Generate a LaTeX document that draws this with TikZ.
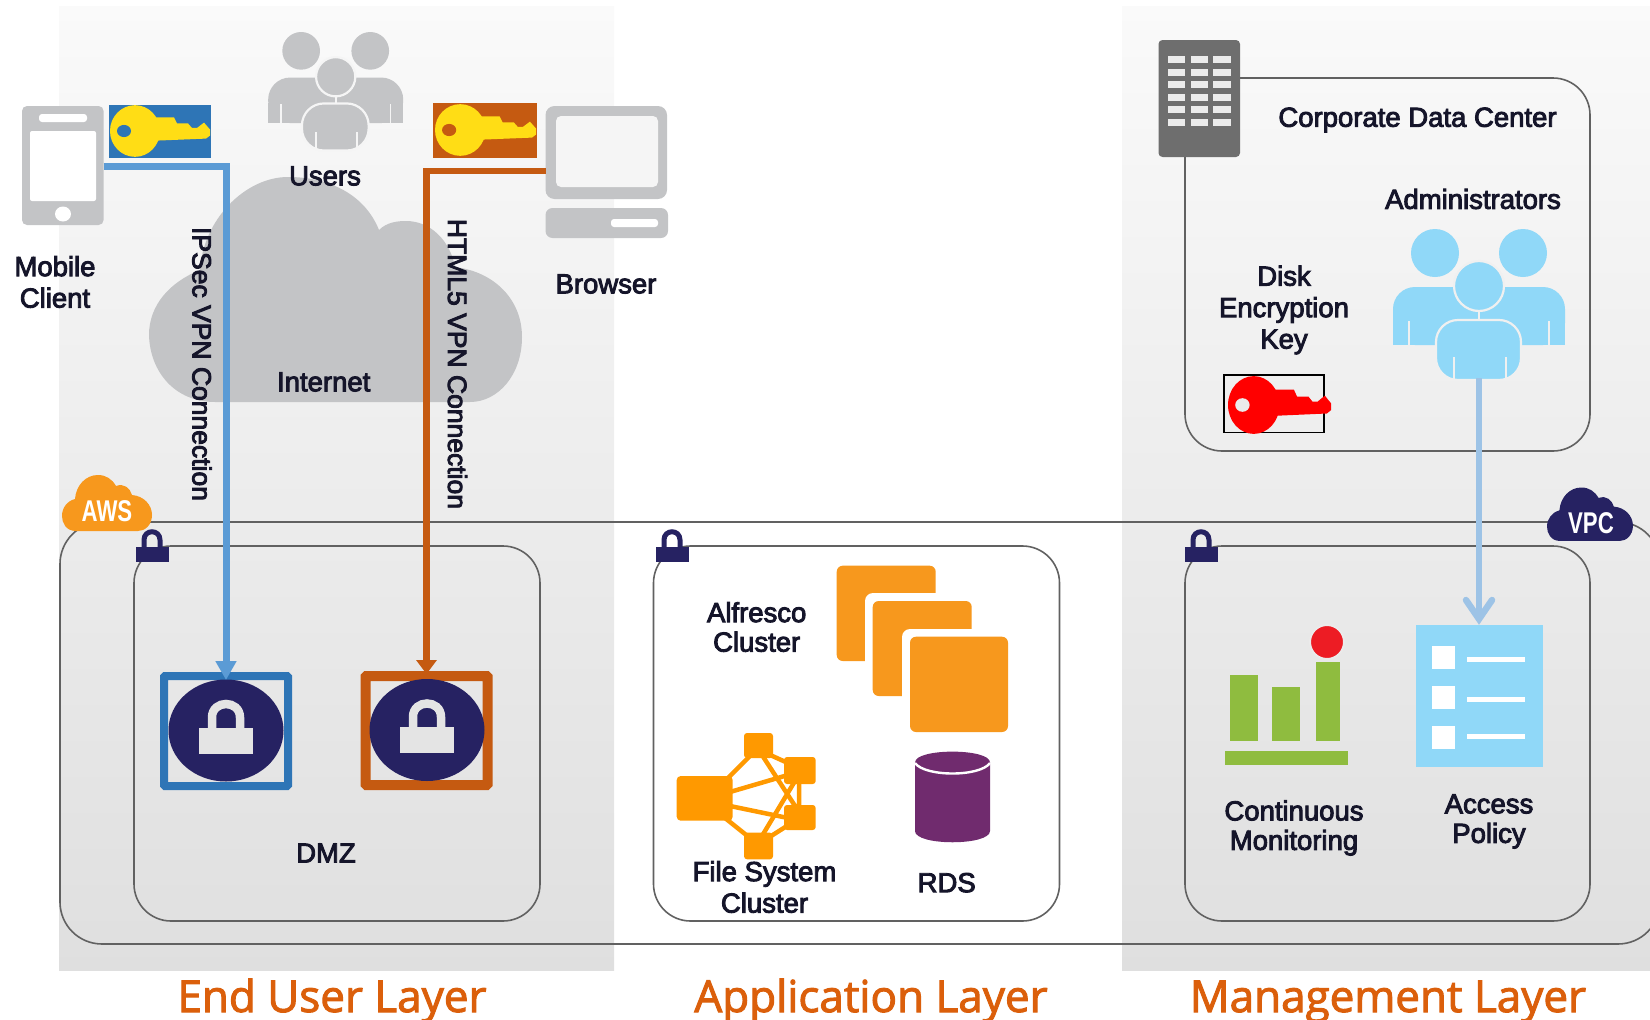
\documentclass[tikz,border=0pt]{standalone}
\usepackage{fontspec}
\setmainfont{Liberation Sans}
\newfontfamily\layerfont{Open Sans}
\newfontfamily\badgefont{Liberation Sans Bold}
\usetikzlibrary{arrows.meta,calc}
\definecolor{navy}{HTML}{262262}
\definecolor{iconGrey}{HTML}{C3C4C6}
\definecolor{awsOrange}{HTML}{F7981D}
\definecolor{fsOrange}{HTML}{FF9900}
\definecolor{skyBlue}{HTML}{90D8F8}
\definecolor{ipsecLine}{HTML}{5B9BD5}
\definecolor{ipsecBox}{HTML}{2E75B6}
\definecolor{htmlOrange}{HTML}{C55A11}
\definecolor{adminLine}{HTML}{9DC3E6}
\definecolor{chartGreen}{HTML}{8FBC3F}
\definecolor{rdsPurple}{HTML}{702B6E}
\definecolor{layerText}{HTML}{DB5F0B}
\definecolor{labelText}{HTML}{15152A}
\definecolor{keyYellow}{HTML}{FFDD15}
\tikzset{
  heavy/.style={execute at begin node={\special{pdf:code 2 Tr #1 w}}, execute at end node={\special{pdf:code 0 Tr 1 w}}},
  lbl/.style={font=\fontsize{27.5}{31.5}\selectfont, text=labelText, align=center, inner sep=0pt, heavy=0.9},
  tight/.style={font=\fontsize{27.5}{29.5}\selectfont},
  vlbl/.style={lbl, font=\fontsize{26.5}{31}\selectfont, rotate=-90},
  layer/.style={font=\layerfont\fontsize{44}{50}\selectfont, text=layerText, inner sep=0pt, anchor=base, heavy=1},
  badge/.style={font=\badgefont\fontsize{30}{30}\selectfont, text=white, xscale=.74, inner sep=0pt},
  panel/.style={top color=black!2, bottom color=black!12.5},
  zone/.style={rectangle, draw=black!62, line width=1.6pt, rounded corners=37pt, inner sep=0pt},
  vpnbox/.style={rectangle, inner sep=0pt, minimum height=110pt},
  winpane/.style={fill=white!92!black},
  pics/smalllock/.style={code={
    \fill[navy] (-16.5,0) rectangle (16.5,15);
    \draw[navy,line width=5pt] (-8,1) -- (-8,-7) .. controls (-8,-18) and (8,-18) .. (8,-7) -- (8,1);
  }},
  pics/biglock/.style={code={
    \fill[navy] (0,0) ellipse [x radius=57.5pt,y radius=51pt];
    \fill[black!10.5] (-27,-3) rectangle (27,23);
    \draw[black!10.5,line width=8.5pt] (-14,-2) -- (-14,-13) .. controls (-14,-31) and (14,-31) .. (14,-13) -- (14,-2);
  }},
  pics/cloudicon/.style={code={
    \fill[#1] (14,56) .. controls (4,56) and (0,48) .. (0,41)
      .. controls (0,33) and (5,26) .. (13,24)
      .. controls (14,10) and (24,0) .. (36,0)
      .. controls (44,0) and (50,4) .. (54,11)
      .. controls (62,8) and (68,13) .. (70,20)
      .. controls (82,21) and (90,30) .. (90,40)
      .. controls (90,50) and (83,56) .. (76,56) -- cycle;
  }},
  pics/keyicon/.style 2 args={code={
    \fill[#1] (25,0) ellipse [x radius=25pt,y radius=34pt];
    \fill[#1] (40,-18) -- (64,-18) -- (67,-10) -- (78,-10) -- (82,-4) -- (87,-4) -- (94,-11) -- (100,-2) -- (100,6) -- (96,10) -- (40,13) -- cycle;
    \fill[#2] (14,0) ellipse [x radius=7pt,y radius=8pt];
  }},
  pics/people/.style 2 args={code={
    \fill[#1] (-44,24) circle [radius=24pt];
    \fill[#1] (44,24) circle [radius=24pt];
    \fill[#1,rounded corners=22pt] (-86,116) -- (-86,58) -- (86,58) -- (86,116) -- cycle;
    \fill[#1] (-86,90) rectangle (86,116);
    \draw[#2,line width=1.6pt] (-70,92) -- (-70,116) (70,92) -- (70,116);
    \filldraw[fill=#1,draw=#2,line width=2.2pt] (0,57) circle [radius=25pt];
    \filldraw[fill=#1,draw=#2,line width=2.2pt,rounded corners=22pt] (-43,151) -- (-43,91) -- (42,91) -- (42,151) -- cycle;
    \draw[#2,line width=2.2pt] (0,82) -- (0,91);
    \draw[#2,line width=1.6pt] (-25,128) -- (-25,150) (27,128) -- (27,150);
  }},
}
\begin{document}
\begin{tikzpicture}[x=1pt,y=-1pt]
\useasboundingbox (0,0) rectangle (1650,1020);
\clip (0,0) rectangle (1650,1020);
% background panels
\path[panel] (59,6) rectangle (614,970);
\path[panel] (1122,6) rectangle (1650,970);
% internet cloud
\fill[iconGrey] (215,402) .. controls (175,402) and (150,372) .. (149,335)
  .. controls (149,305) and (170,282) .. (200,270)
  .. controls (203,220) and (245,177) .. (288,177)
  .. controls (330,177) and (365,195) .. (379,230)
  .. controls (387,222) and (398,221) .. (406,221)
  .. controls (430,221) and (450,240) .. (455,267)
  .. controls (495,272) and (522,300) .. (522,337)
  .. controls (522,375) and (498,402) .. (470,402) -- cycle;
% zones
\node[zone,rounded corners=42pt,minimum width=1600pt,minimum height=422pt] (vpc) at (860,733) {};
\node[zone,minimum width=406pt,minimum height=375pt] (dmz) at (337,733.5) {};
\node[zone,minimum width=406pt,minimum height=375pt] (app) at (856.5,733.5) {};
\node[zone,minimum width=405pt,minimum height=375pt] (mgmt) at (1387.5,733.5) {};
\node[zone,minimum width=405pt,minimum height=373pt] (corp) at (1387.5,264.5) {};
% small locks and clouds
\pic at (152,547) {smalllock};
\pic at (672,547) {smalllock};
\pic at (1201,547) {smalllock};
\pic at (62,475) {cloudicon=awsOrange};
\pic[xscale=.955,yscale=.955] at (1547,487.5) {cloudicon=navy};
\node[badge] (awsT) at (107,511) {AWS};
\node[badge] (vpcT) at (1591,523) {VPC};
% mobile icon
\fill[iconGrey,rounded corners=5pt] (22,106) rectangle (103.6,225);
\fill[white,rounded corners=3pt] (39,114) rectangle (87,122);
\fill[white,rounded corners=2pt] (30,131) rectangle (96,201);
\fill[white] (63,214) ellipse [x radius=8pt,y radius=7.5pt];
% browser icon
\fill[iconGrey,rounded corners=9pt] (545.5,106) rectangle (667,199);
\fill[white!96!black,rounded corners=5pt] (556,116) rectangle (658,187);
\fill[iconGrey,rounded corners=7pt] (545.5,208) rectangle (668,238);
\fill[white,rounded corners=3pt] (611,219) rectangle (658,227);
% keys
\fill[ipsecBox] (109,105) rectangle (211,158);
\pic[xscale=1,yscale=.76] at (110,131) {keyicon={keyYellow}{ipsecBox}};
\fill[htmlOrange] (433,103) rectangle (537,158);
\pic[xscale=1.01,yscale=.76] at (435,130) {keyicon={keyYellow}{htmlOrange}};
% people
\pic[scale=.785] at (335.7,32) {people={iconGrey}{black!4}};
\pic at (1479,229) {people={skyBlue}{black!6}};
% disk key
\draw[black,line width=1.6pt] (1224,375) rectangle (1324,432.5);
\pic[xscale=1.03,yscale=.85] at (1228,405) {keyicon={red}{white!92!black}};
% building
\fill[black!57,rounded corners=4pt] (1158.5,40) rectangle (1240,157);
\foreach \wx in {1167.7,1190.5,1213}{
  \foreach \wy in {56,68.5,81,93.5,106,118.5}{
    \fill[winpane] (\wx,\wy) rectangle ++(17.5,7.2);
  }
}
% VPN endpoints
\node[vpnbox,draw=ipsecBox,line width=8pt,rounded corners=1pt,minimum width=124pt] (vpnA) at (226,731) {};
\node[vpnbox,draw=htmlOrange,line width=10pt,rounded corners=1pt,minimum width=122pt,minimum height=109pt] (vpnB) at (426.5,730.5) {};
\pic at (226,730.5) {biglock};
\pic at (427,730) {biglock};
% application icons
\fill[awsOrange,rounded corners=6pt] (836.7,565.7) rectangle (935.7,661);
\fill[white,rounded corners=8pt] (865,593) rectangle (980,704);
\fill[awsOrange,rounded corners=6pt] (872.7,601) rectangle (971.7,696);
\fill[white,rounded corners=8pt] (902,629) rectangle (1016,740);
\fill[awsOrange,rounded corners=6pt] (910,636.7) rectangle (1008,732);
% file system cluster
\begin{scope}[fsOrange]
\fill[rounded corners=4pt] (676.7,776) rectangle (732.7,820.7);
\fill[rounded corners=3pt] (744,733) rectangle (773,758);
\fill[rounded corners=3pt] (784,757) rectangle (815.7,784);
\fill[rounded corners=3pt] (784,805) rectangle (815.7,830);
\fill[rounded corners=3pt] (744,832.7) rectangle (773,859.3);
\draw[line width=4.5pt] (728,778) -- (750,756) (730,792) -- (788,775) (730,806) -- (788,818)
  (725,818) -- (750,838) (768,754) -- (790,764) (762,755) -- (797,809) (762,836) -- (795,781)
  (768,838) -- (790,824) (799,782) -- (799,807);
\end{scope}
% RDS
\fill[rdsPurple] (915,762.5) .. controls (915,748) and (990,748) .. (990,762.5) -- (990,831)
  .. controls (990,846) and (915,846) .. (915,831) -- cycle;
\draw[white,line width=2.4pt] (915,763) .. controls (925,777) and (980,777) .. (990,763);
% chart
\fill[chartGreen] (1230,675) rectangle (1257.7,740.7);
\fill[chartGreen] (1272,687) rectangle (1300,740.7);
\fill[chartGreen] (1315.7,661.7) rectangle (1340,740.7);
\fill[chartGreen] (1225,750.7) rectangle (1348,765);
\filldraw[fill={rgb,255:red,237;green,28;blue,36},draw=black!8,line width=2pt] (1327,642) circle [radius=17pt];
% policy
\node[rectangle,fill=skyBlue,minimum width=127pt,minimum height=142pt,inner sep=0pt] (policy) at (1479,696) {};
\foreach \cy/\ly in {645.7/659,685.7/699,725.7/736}{
  \fill[white] (1431.7,\cy) rectangle ++(23.3,23);
  \fill[white] (1466.7,\ly-2.5) rectangle (1525,\ly+2.5);
}
% connectors
\coordinate (blueStart) at (103.6,166.5);
\coordinate (orangeStart) at (545.5,171);
\coordinate (adminFoot) at (1479,378);
\draw[ipsecLine,line width=7pt,shorten >=-8pt,-{Triangle[length=19pt,width=20pt]}] (blueStart) -| (vpnA.north);
\draw[htmlOrange,line width=6.5pt,shorten >=-3pt,-{Triangle[length=14pt,width=20pt]}] (orangeStart) -| (vpnB.north);
\draw[adminLine,line width=6.5pt,-{Straight Barb[length=19pt,width=26pt,line width=6.5pt,line cap=round]}] (adminFoot) -- (policy.north);
% labels
\node[lbl] (lMobile) at (55,282) {Mobile\\Client};
\node[lbl] (lUsers) at (325,176) {Users};
\node[lbl] (lBrowser) at (606,284) {Browser};
\node[lbl] (lInternet) at (323.7,382) {Internet};
\node[vlbl] (lIpsec) at (202,364) {IPSec VPN Connection};
\node[vlbl] (lHtml) at (457.5,364) {HTML5 VPN Connection};
\node[lbl] (lCorp) at (1417.5,120) {Corporate Data Center};
\node[lbl] (lAdmin) at (1473,199) {Administrators};
\node[lbl] (lDisk) at (1284,310) {Disk\\Encryption\\Key};
\node[lbl] (lDmz) at (326,853) {DMZ};
\node[lbl,tight] (lAlf) at (756.7,627) {Alfresco\\Cluster};
\node[lbl] (lFs) at (764.5,887) {File System\\Cluster};
\node[lbl] (lRds) at (946.7,882.7) {RDS};
\node[lbl,tight] (lCm) at (1294,828) {Continuous\\Monitoring};
\node[lbl,tight] (lAp) at (1489,821.5) {Access\\Policy};
\node[layer] (lEnd) at (332,1012) {End User Layer};
\node[layer] (lApp) at (871,1012) {Application Layer};
\node[layer] (lMgt) at (1388,1012) {Management Layer};
\end{tikzpicture}
\end{document}
